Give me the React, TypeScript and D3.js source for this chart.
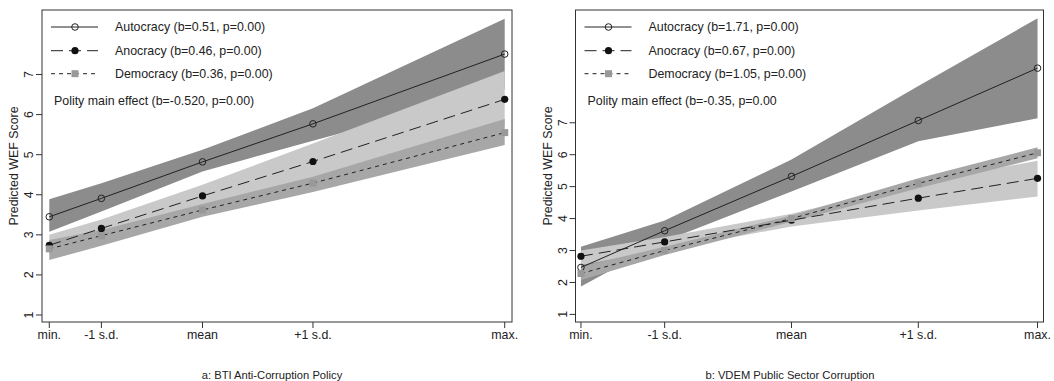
import React from "react";
import * as d3 from "d3";

// x categories (positions, in s.d. units)
const xLabels = ["min.", "-1 s.d.", "mean", "+1 s.d.", "max."];
const xPosA = [-1.47, -0.97, 0, 1.06, 2.9];
const xPosB = [-1.66, -1, 0, 1, 1.94];

const yTicks = [1, 2, 3, 4, 5, 6, 7];

// panel a: BTI Anti-Corruption Policy
const autoA = [3.45, 3.91, 4.82, 5.77, 7.51];
const autoALo = [3.08, 3.58, 4.58, 5.35, 6.63];
const autoAHi = [3.89, 4.29, 5.12, 6.16, 8.39];
const anoA = [2.74, 3.16, 3.97, 4.83, 6.38];
const anoALo = [2.5, 2.98, 3.7, 4.38, 5.7];
const anoAHi = [3.0, 3.38, 4.25, 5.28, 7.09];
const demA = [2.65, 2.98, 3.62, 4.29, 5.55];
const demALo = [2.37, 2.73, 3.45, 4.07, 5.24];
const demAHi = [2.87, 3.12, 3.77, 4.45, 5.89];

// panel b: VDEM Public Sector Corruption
const autoB = [2.47, 3.62, 5.32, 7.07, 8.71];
const autoBLo = [1.87, 3.3, 4.85, 6.42, 7.14];
const autoBHi = [3.12, 3.94, 5.85, 8.15, 10.27];
const anoB = [2.82, 3.27, 3.95, 4.64, 5.26];
const anoBLo = [2.55, 3.02, 3.75, 4.25, 4.69];
const anoBHi = [3.0, 3.42, 4.15, 5.12, 5.81];
const demB = [2.28, 3.0, 4.0, 5.1, 6.06];
const demBLo = [2.08, 2.86, 3.9, 4.95, 5.89];
const demBHi = [2.5, 3.12, 4.1, 5.26, 6.23];

const legendA = ["Autocracy (b=0.51, p=0.00)", "Anocracy (b=0.46, p=0.00)", "Democracy (b=0.36, p=0.00)"];
const legendB = ["Autocracy (b=1.71, p=0.00)", "Anocracy (b=0.67, p=0.00)", "Democracy (b=1.05, p=0.00)"];
const noteA = "Polity main effect (b=-0.520, p=0.00)";
const noteB = "Polity main effect (b=-0.35, p=0.00";
const yTitle = "Predicted WEF Score";

const FONT = "'Liberation Sans', Arial, Helvetica, sans-serif";
const INK = "#222";

const styles = [
  { band: "#8c8c8c", dash: null, marker: "open" },
  { band: "#c9c9c9", dash: "12,6", marker: "dot" },
  { band: "#a7a7a7", dash: "4,4", marker: "square" },
];

function Marker({ kind, x, y }) {
  if (kind === "open") return <circle cx={x} cy={y} r={3.3} fill="none" stroke={INK} strokeWidth={1} />;
  if (kind === "dot") return <circle cx={x} cy={y} r={3.6} fill="#111" />;
  return <rect x={x - 3.5} y={y - 3.5} width={7} height={7} fill="#999" />;
}

function Panel({ box, xDom, yDom, xPos, series, legend, note, caption, captionX }) {
  const x = d3.scaleLinear().domain(xDom).range([box.left, box.right]);
  const y = d3.scaleLinear().domain(yDom).range([box.bottom, box.top]);
  const idx = d3.range(xPos.length);

  const area = (lo, hi) =>
    d3.area().x((i) => x(xPos[i])).y0((i) => y(lo[i])).y1((i) => y(hi[i]))(idx);
  const line = (v) => d3.line().x((i) => x(xPos[i])).y((i) => y(v[i]))(idx);

  const lgX = box.left + 9;
  const lgRows = [27, 50.7, 73.7];

  return (
    <g fontFamily={FONT} fill={INK}>
      {series.map((s, k) => (
        <path key={"b" + k} d={area(s.lo, s.hi)} fill={styles[k].band} stroke="none" />
      ))}
      {series.map((s, k) => (
        <path key={"l" + k} d={line(s.mid)} fill="none" stroke={INK} strokeWidth={1}
          strokeDasharray={styles[k].dash || undefined} />
      ))}
      {series.map((s, k) =>
        s.mid.map((v, i) => <Marker key={"m" + k + i} kind={styles[k].marker} x={x(xPos[i])} y={y(v)} />)
      )}

      <rect x={box.left} y={box.top} width={box.right - box.left} height={box.bottom - box.top}
        fill="none" stroke="#333" strokeWidth={1} />

      {xPos.map((p, i) => (
        <g key={"xt" + i}>
          <line x1={x(p)} x2={x(p)} y1={box.bottom} y2={box.bottom + 6} stroke="#333" />
          <text x={x(p)} y={338.5} textAnchor="middle" fontSize={12.4}>{xLabels[i]}</text>
        </g>
      ))}
      {yTicks.map((t) => (
        <g key={"yt" + t}>
          <line x1={box.left - 6} x2={box.left} y1={y(t)} y2={y(t)} stroke="#333" />
          <text transform={`translate(${box.left - 9},${y(t)}) rotate(-90)`} textAnchor="middle" fontSize={12.4}>{t}</text>
        </g>
      ))}
      <text transform={`translate(${box.left - 24},${(box.top + box.bottom) / 2}) rotate(-90)`}
        textAnchor="middle" fontSize={12.4}>{yTitle}</text>

      {legend.map((label, k) => (
        <g key={"lg" + k}>
          <line x1={lgX} x2={lgX + 47} y1={lgRows[k]} y2={lgRows[k]} stroke={INK}
            strokeDasharray={styles[k].dash || undefined} />
          <Marker kind={styles[k].marker} x={lgX + 24} y={lgRows[k]} />
          <text x={box.left + 73} y={lgRows[k] + 4.4} fontSize={12.4}>{label}</text>
        </g>
      ))}
      <text x={box.left + 12} y={101 + 4.4} fontSize={12.4}>{note}</text>

      <text x={captionX} y={379} textAnchor="middle" fontSize={11.2}>{caption}</text>
    </g>
  );
}

export default function App() {
  const seriesA = [
    { mid: autoA, lo: autoALo, hi: autoAHi },
    { mid: anoA, lo: anoALo, hi: anoAHi },
    { mid: demA, lo: demALo, hi: demAHi },
  ];
  const seriesB = [
    { mid: autoB, lo: autoBLo, hi: autoBHi },
    { mid: anoB, lo: anoBLo, hi: anoBHi },
    { mid: demB, lo: demBLo, hi: demBHi },
  ];
  return (
    <svg width={1054} height={381} style={{ position: "absolute", left: 0, top: 0, background: "#fff" }}>
      <Panel
        box={{ left: 42, right: 512, top: 10, bottom: 322 }}
        xDom={[-1.54, 2.97]}
        yDom={[0.825, 8.61]}
        xPos={xPosA}
        series={seriesA}
        legend={legendA}
        note={noteA}
        caption="a: BTI Anti-Corruption Policy"
        captionX={272}
      />
      <Panel
        box={{ left: 575.5, right: 1043.5, top: 10, bottom: 322 }}
        xDom={[-1.703, 1.987]}
        yDom={[0.762, 10.53]}
        xPos={xPosB}
        series={seriesB}
        legend={legendB}
        note={noteB}
        caption="b: VDEM Public Sector Corruption"
        captionX={790}
      />
    </svg>
  );
}
